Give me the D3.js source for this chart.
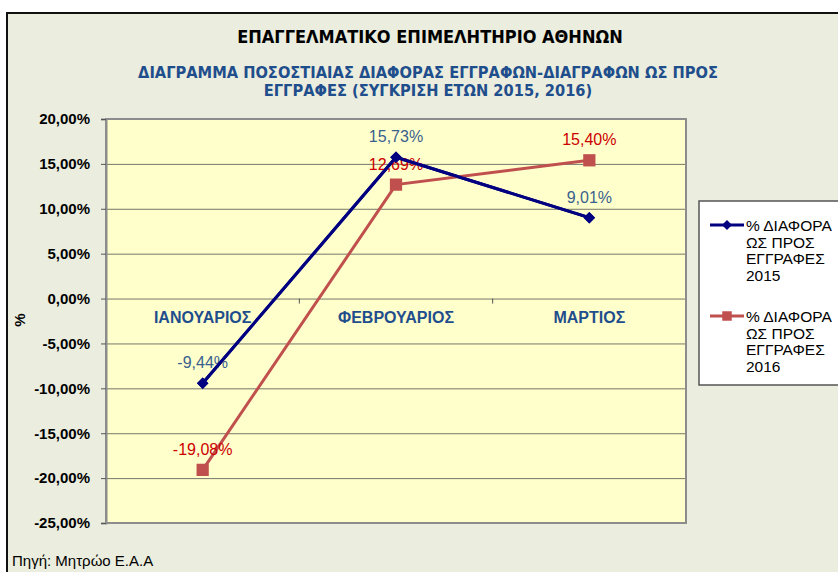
<!DOCTYPE html>
<html lang="el">
<head>
<meta charset="UTF-8">
<title>Επαγγελματικό Επιμελητήριο Αθηνών</title>
<script src="https://d3js.org/d3.v7.min.js"></script>
<style>
  body { margin: 0; background: #fff; }
  .narrow { font-family: "Liberation Sans Narrow", "Arial Narrow", "DejaVu Sans Condensed", sans-serif; }
  .grid line { stroke: #77776a; }
  .grid .domain { display: none; }
</style>
</head>
<body>
<svg width="838" height="572"></svg>
<script>
// data
const months = ["ΙΑΝΟΥΑΡΙΟΣ", "ΦΕΒΡΟΥΑΡΙΟΣ", "ΜΑΡΤΙΟΣ"];
const diff2015 = [-9.44, 15.73, 9.01];
const diff2016 = [-19.08, 12.69, 15.40];
const seriesNames = [
  ["% ΔΙΑΦΟΡΑ", "ΩΣ ΠΡΟΣ", "ΕΓΓΡΑΦΕΣ", "2015"],
  ["% ΔΙΑΦΟΡΑ", "ΩΣ ΠΡΟΣ", "ΕΓΓΡΑΦΕΣ", "2016"]
];
const yTicks = [-25, -20, -15, -10, -5, 0, 5, 10, 15, 20];

const svg = d3.select("svg");
const fmt = v => v.toFixed(2).replace(".", ",") + "%";
const sans = "Liberation Sans, Arial, sans-serif";

// chart area background + frame
svg.append("rect").attr("x", 7).attr("y", 13).attr("width", 840).attr("height", 570)
  .attr("fill", "#ebeddf").attr("stroke", "#111").attr("stroke-width", 2);

// titles
svg.append("text").attr("class", "narrow")
  .attr("x", 430).attr("y", 43).attr("text-anchor", "middle")
  .attr("font-size", 18).attr("fill", "#000").attr("font-weight", "bold")
  .text("ΕΠΑΓΓΕΛΜΑΤΙΚΟ ΕΠΙΜΕΛΗΤΗΡΙΟ ΑΘΗΝΩΝ");
svg.append("text").attr("class", "narrow")
  .attr("x", 428).attr("y", 78).attr("text-anchor", "middle")
  .attr("font-size", 16.3).attr("fill", "#1f4e8c").attr("font-weight", "bold")
  .text("ΔΙΑΓΡΑΜΜΑ ΠΟΣΟΣΤΙΑΙΑΣ ΔΙΑΦΟΡΑΣ ΕΓΓΡΑΦΩΝ-ΔΙΑΓΡΑΦΩΝ ΩΣ ΠΡΟΣ");
svg.append("text").attr("class", "narrow")
  .attr("x", 428).attr("y", 96).attr("text-anchor", "middle")
  .attr("font-size", 16.3).attr("fill", "#1f4e8c").attr("font-weight", "bold")
  .text("ΕΓΓΡΑΦΕΣ (ΣΥΓΚΡΙΣΗ ΕΤΩΝ 2015, 2016)");

// scales
const x = d3.scaleBand().domain(months).range([106, 686]).padding(0);
const y = d3.scaleLinear().domain([-25, 20]).range([523, 119]);

// plot area
svg.append("rect").attr("x", 106).attr("y", 119).attr("width", 580).attr("height", 404)
  .attr("fill", "#ffffcc");

svg.append("g").attr("class", "grid")
  .attr("transform", "translate(106,0)")
  .call(d3.axisLeft(y).tickValues(yTicks).tickSize(-580).tickFormat(""));

svg.append("rect").attr("x", 106).attr("y", 119).attr("width", 580).attr("height", 404)
  .attr("fill", "none").attr("stroke", "#8c8c8c").attr("stroke-width", 2);

// y axis labels
const yAxis = svg.append("g")
  .attr("transform", "translate(106,0)")
  .call(d3.axisLeft(y).tickValues(yTicks).tickSize(5).tickPadding(11)
    .tickFormat(d => d.toFixed(2).replace(".", ",") + "%"));
yAxis.select(".domain").attr("stroke", "#8c8c8c").attr("stroke-width", 2);
yAxis.selectAll(".tick line").attr("stroke", "#555");
yAxis.selectAll("text").attr("font-family", sans)
  .attr("font-size", 15).attr("font-weight", "bold").attr("fill", "#000");

svg.append("text").attr("transform", "translate(25,320) rotate(-90)")
  .attr("text-anchor", "middle").attr("font-family", sans)
  .attr("font-size", 15).attr("font-weight", "bold").text("%");

// category axis on zero line
const xAxis = svg.append("g")
  .attr("transform", `translate(0,${y(0)})`)
  .call(d3.axisBottom(x).tickSize(0).tickPadding(13));
xAxis.select(".domain").remove();
xAxis.selectAll("text").attr("font-family", sans)
  .attr("font-size", 16).attr("font-weight", "bold").attr("fill", "#1f4e8c");
svg.append("g").selectAll("line")
  .data(months.slice(1))
  .join("line")
  .attr("x1", d => x(d)).attr("x2", d => x(d))
  .attr("y1", y(0)).attr("y2", y(0) + 5)
  .attr("stroke", "#555");

// series
const diamond = d3.symbol().type(d3.symbolSquare).size(66);
const square = d3.symbol().type(d3.symbolSquare).size(150);
const series = [
  { values: diff2015, color: "#000080", labelColor: "#3a5f8e", sym: diamond, rot: 45 },
  { values: diff2016, color: "#c0504d", labelColor: "#cc0000", sym: square, rot: 0 }
];
const cx = i => x(months[i]) + x.bandwidth() / 2;
const line = d3.line().x((d, i) => cx(i)).y(d => y(d));

function drawSeries(s) {
  svg.append("path").datum(s.values).attr("d", line)
    .attr("fill", "none").attr("stroke", s.color).attr("stroke-width", 3);
  svg.append("g").selectAll("path").data(s.values).join("path")
    .attr("transform", (d, i) => `translate(${cx(i)},${y(d)}) rotate(${s.rot})`)
    .attr("d", s.sym())
    .attr("fill", s.color);
}
series.forEach(drawSeries);

// data labels
series.forEach(s => {
  svg.append("g").selectAll("text").data(s.values).join("text")
    .attr("x", (d, i) => cx(i))
    .attr("y", d => y(d) - 15)
    .attr("text-anchor", "middle")
    .attr("font-family", sans).attr("font-size", 16)
    .attr("fill", s.labelColor)
    .text(d => fmt(d));
});
// the 2015 line runs over the labels in the original
drawSeries(series[0]);

// legend
svg.append("rect").attr("x", 699).attr("y", 201).attr("width", 160).attr("height", 184)
  .attr("fill", "#fff").attr("stroke", "#555").attr("stroke-width", 1.5);
series.forEach((s, k) => {
  const ly = 225 + k * 91;
  svg.append("line").attr("x1", 710).attr("x2", 744).attr("y1", ly).attr("y2", ly)
    .attr("stroke", s.color).attr("stroke-width", 3);
  svg.append("path").attr("transform", `translate(727,${ly}) rotate(${s.rot})`)
    .attr("d", s.sym.size(k === 0 ? 50 : 90)()).attr("fill", s.color);
  svg.append("g").selectAll("text").data(seriesNames[k]).join("text")
    .attr("x", 746).attr("y", (d, i) => ly + 6 + i * 16.5)
    .attr("font-family", sans).attr("font-size", 15.5)
    .attr("fill", "#000").text(d => d);
});

// source
svg.append("text").attr("x", 12).attr("y", 566)
  .attr("font-family", sans).attr("font-size", 15)
  .attr("fill", "#000").text("Πηγή: Μητρώο Ε.Α.Α");
</script>
</body>
</html>
